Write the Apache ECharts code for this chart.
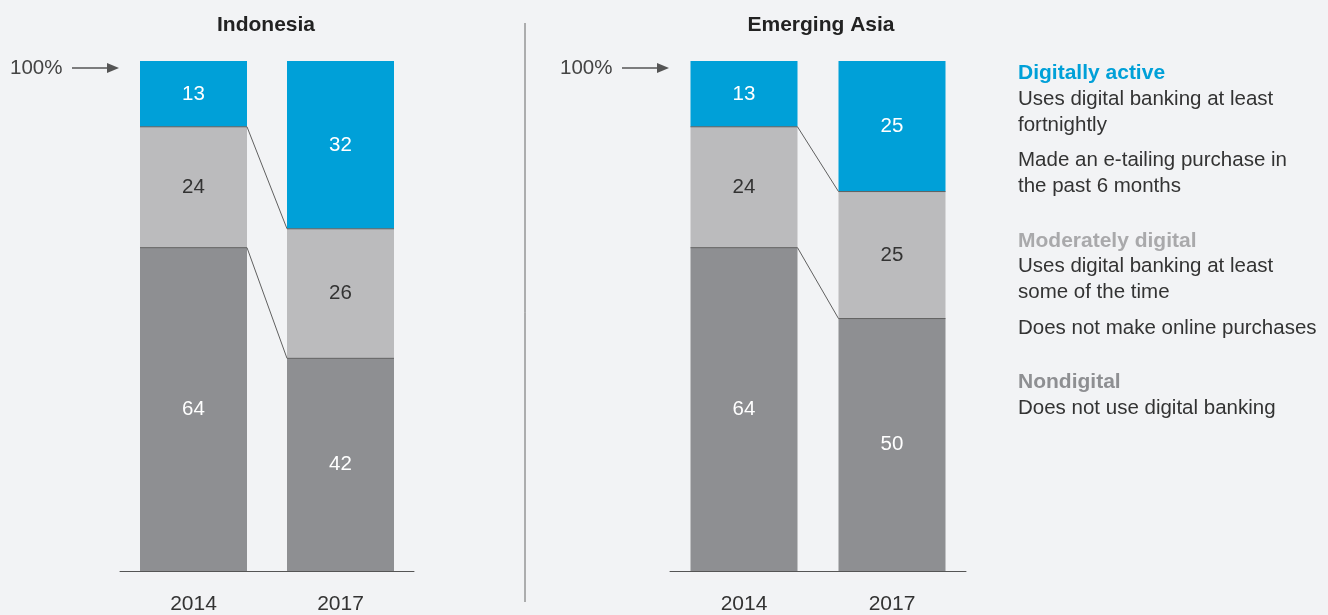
<!DOCTYPE html>
<html>
<head>
<meta charset="utf-8">
<script src="https://cdn.jsdelivr.net/npm/echarts@6/dist/echarts.min.js"></script>
<style>
  html, body { margin: 0; padding: 0; background: #f2f3f5; }
  #chart { width: 1328px; height: 615px; }
</style>
</head>
<body>
<div id="chart"></div>
<script>
// data (bar heights in % of the column, labels as printed)
const years = ['2014', '2017'];
const panels = ['Indonesia', 'Emerging Asia'];

const idnNondigital = [63.4, 41.7];
const idnModerate   = [23.7, 25.4];
const idnActive     = [12.9, 32.9];
const idnNondigitalLbl = [64, 42];
const idnModerateLbl   = [24, 26];
const idnActiveLbl     = [13, 32];

const asiaNondigital = [63.4, 49.5];
const asiaModerate   = [23.7, 24.9];
const asiaActive     = [12.9, 25.6];
const asiaNondigitalLbl = [64, 50];
const asiaModerateLbl   = [24, 25];
const asiaActiveLbl     = [13, 25];

const BLUE = '#00a0d8', LIGHT = '#bbbbbd', DARK = '#8e8f92';
const FONT = '"Liberation Sans", Arial, sans-serif';
const FS = 20.5;
const BAR_W = 107;

function withLabels(vals, lbls) {
  return vals.map((v, i) => ({ value: v, label: { formatter: String(lbls[i]) } }));
}

function barSeries(idx, name, vals, lbls, color, textColor) {
  return {
    type: 'bar', name: name, stack: 'p' + idx,
    xAxisIndex: idx, yAxisIndex: idx,
    barWidth: BAR_W,
    itemStyle: { color: color },
    label: { show: true, position: 'inside', fontSize: FS, fontFamily: FONT, color: textColor },
    data: withLabels(vals, lbls),
    silent: true
  };
}

// line across each segment boundary, joined between the two bars
function connector(idx, low, mid) {
  const data = [
    [0, low[0], 1, low[1]],
    [0, low[0] + mid[0], 1, low[1] + mid[1]]
  ];
  return {
    type: 'custom', xAxisIndex: idx, yAxisIndex: idx, z: 5, silent: true,
    encode: { x: [0, 2], y: [1, 3] },
    data: data,
    renderItem: function (params, api) {
      const a = api.coord([api.value(0), api.value(1)]);
      const b = api.coord([api.value(2), api.value(3)]);
      const h = BAR_W / 2;
      return {
        type: 'polyline',
        shape: { points: [[a[0] - h, a[1]], [a[0] + h, a[1]], [b[0] - h, b[1]], [b[0] + h, b[1]]] },
        style: { stroke: '#606060', lineWidth: 1, fill: null }
      };
    }
  };
}

function arrow(x, y) {
  return [
    { type: 'text', left: x, top: y - 10, style: { text: '100%', fontSize: FS, fontFamily: FONT, fill: '#444' } },
    { type: 'line', shape: { x1: x + 62, y1: y, x2: x + 100, y2: y }, style: { stroke: '#555', lineWidth: 1.3 } },
    { type: 'polygon', shape: { points: [[x + 97, y - 5], [x + 109, y], [x + 97, y + 5]] }, style: { fill: '#555' } }
  ];
}

function legendText(top, text, color, bold) {
  return {
    type: 'text', left: 1018, top: top,
    style: {
      text: text, fontSize: bold ? 21 : FS, lineHeight: 26, fontFamily: FONT,
      fill: color, fontWeight: bold ? 'bold' : 'normal'
    }
  };
}

const chart = echarts.init(document.getElementById('chart'));

const xAxisBase = {
  type: 'category', data: years,
  axisLine: { lineStyle: { color: '#555', width: 1 } },
  axisTick: { show: false },
  axisLabel: { fontSize: 21, fontFamily: FONT, color: '#333', margin: 23 }
};
const yAxisBase = { type: 'value', min: 0, max: 100, show: false };

chart.setOption({
  backgroundColor: '#f2f3f5',
  animation: false,
  title: [
    { text: panels[0], left: 261, top: 10, textAlign: 'center',
      textStyle: { fontSize: 21, fontWeight: 'bold', fontFamily: FONT, color: '#222' } },
    { text: panels[1], left: 816, top: 10, textAlign: 'center',
      textStyle: { fontSize: 21, fontWeight: 'bold', fontFamily: FONT, color: '#222' } }
  ],
  grid: [
    { left: 120, width: 294, top: 61, bottom: 43 },
    { left: 670, width: 296, top: 61, bottom: 43 }
  ],
  xAxis: [Object.assign({ gridIndex: 0 }, xAxisBase), Object.assign({ gridIndex: 1 }, xAxisBase)],
  yAxis: [Object.assign({ gridIndex: 0 }, yAxisBase), Object.assign({ gridIndex: 1 }, yAxisBase)],
  series: [
    barSeries(0, 'Nondigital', idnNondigital, idnNondigitalLbl, DARK, '#fff'),
    barSeries(0, 'Moderately digital', idnModerate, idnModerateLbl, LIGHT, '#333'),
    barSeries(0, 'Digitally active', idnActive, idnActiveLbl, BLUE, '#fff'),
    connector(0, idnNondigital, idnModerate),
    barSeries(1, 'Nondigital', asiaNondigital, asiaNondigitalLbl, DARK, '#fff'),
    barSeries(1, 'Moderately digital', asiaModerate, asiaModerateLbl, LIGHT, '#333'),
    barSeries(1, 'Digitally active', asiaActive, asiaActiveLbl, BLUE, '#fff'),
    connector(1, asiaNondigital, asiaModerate)
  ],
  graphic: [].concat(
    arrow(10, 68),
    arrow(560, 68),
    [{ type: 'line', shape: { x1: 525, y1: 23, x2: 525, y2: 602 }, style: { stroke: '#666', lineWidth: 1 } }],
    [
      legendText(60, 'Digitally active', BLUE, true),
      legendText(86, 'Uses digital banking at least\nfortnightly', '#333'),
      legendText(147, 'Made an e-tailing purchase in\nthe past 6 months', '#333'),
      legendText(228, 'Moderately digital', '#a9a9ab', true),
      legendText(253, 'Uses digital banking at least\nsome of the time', '#333'),
      legendText(315, 'Does not make online purchases', '#333'),
      legendText(369, 'Nondigital', DARK, true),
      legendText(395, 'Does not use digital banking', '#333')
    ]
  )
});
</script>
</body>
</html>
